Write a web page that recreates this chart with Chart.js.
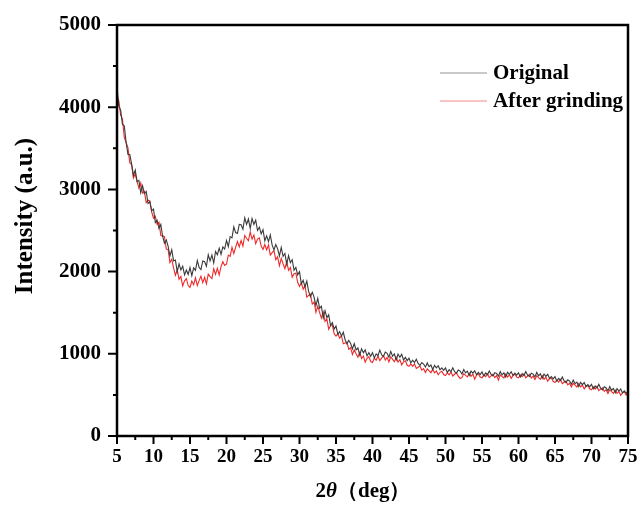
<!DOCTYPE html>
<html>
<head>
<meta charset="utf-8">
<script src="https://cdn.jsdelivr.net/npm/chart.js@4.4.1/dist/chart.umd.min.js"></script>
<style>
  html, body { margin: 0; padding: 0; background: #fff; }
  #wrap { width: 643px; height: 515px; }
</style>
</head>
<body>
<div id="wrap"><canvas id="xrd"></canvas></div>
<script>
// scan starts at 5 deg, one reading every 0.25 deg up to 75 deg
const angleStart = 5;
const angleStep = 0.25;

const xTicks = [5, 10, 15, 20, 25, 30, 35, 40, 45, 50, 55, 60, 65, 70, 75];
const yTicks = [0, 1000, 2000, 3000, 4000, 5000];

const seriesNames = ["Original", "After grinding"];

// intensities (Original), noisy as in the scan
const original = [
  4240,4010,3965,3790,3775,3570,3425,3425,3310,3170,3235,3095,3110,2960,3045,2950,2975,2830,2850,2740,
  2760,2595,2625,2525,2575,2430,2345,2385,2310,2190,2265,2130,2140,2000,2095,2020,2065,1960,2020,1965,
  2050,1950,2045,2015,2135,2050,2025,2130,2120,2065,2205,2130,2200,2105,2245,2205,2285,2210,2300,2275,
  2380,2305,2425,2410,2545,2475,2465,2575,2570,2515,2655,2575,2640,2525,2645,2575,2625,2500,2540,2460,
  2510,2375,2435,2365,2445,2325,2265,2330,2280,2190,2295,2185,2220,2090,2195,2110,2145,2015,2050,1960,
  2000,1850,1895,1815,1885,1760,1695,1750,1690,1585,1675,1555,1580,1435,1525,1440,1475,1345,1380,1300,
  1338,1236,1270,1214,1262,1171,1122,1164,1127,1058,1125,1048,1071,984,1061,1013,1048,974,1014,971,
  1014,948,999,977,1045,988,967,1021,1006,959,1029,970,998,927,997,959,993,925,957,917,
  948,890,922,894,934,883,860,894,875,838,889,844,864,809,860,830,855,805,829,799,
  828,773,807,784,829,783,765,804,790,755,809,767,789,736,790,764,793,746,774,747,
  780,729,767,745,792,748,731,771,760,728,783,743,768,718,775,750,781,736,766,741,
  770,719,758,736,784,740,724,764,753,719,774,732,756,702,754,725,750,700,724,694,
  723,668,702,676,719,671,649,684,668,631,681,636,656,601,653,624,650,601,626,598,
  628,574,609,584,629,582,562,599,585,549,601,557,579,525,577,547,573,524,549,520,
  540
];

// intensities (After grinding)
const afterGrinding = [
  4130,4080,3905,3855,3630,3570,3505,3325,3300,3140,3190,3095,3015,3080,2955,2975,2840,2870,2860,2725,
  2650,2675,2575,2600,2440,2435,2425,2275,2270,2110,2150,2045,1955,2020,1905,1940,1825,1887,1915,1830,
  1808,1885,1840,1925,1830,1890,1945,1865,1930,1850,1970,1940,1915,2035,1965,2040,1960,2060,2120,2075,
  2090,2200,2185,2295,2220,2295,2365,2300,2380,2310,2440,2405,2375,2482,2395,2445,2340,2395,2410,2310,
  2270,2330,2265,2325,2200,2230,2255,2145,2180,2070,2160,2095,2035,2120,2015,2050,1930,1975,1980,1870,
  1820,1865,1785,1830,1690,1710,1725,1605,1630,1505,1580,1505,1435,1510,1395,1425,1300,1345,1350,1245,
  1215,1246,1190,1220,1122,1132,1138,1056,1074,991,1048,1002,959,1017,943,974,898,945,965,906,
  895,946,921,974,916,948,978,924,957,901,964,932,903,958,900,929,864,902,915,860,
  847,876,848,877,822,837,850,802,819,773,818,793,770,812,769,792,745,775,788,747,
  735,769,745,779,730,751,770,728,700,710,759,738,719,765,726,752,690,741,756,718,
  708,744,722,757,710,732,752,710,735,680,744,724,707,754,717,744,702,736,753,716,
  707,743,721,756,708,730,749,706,729,686,734,711,690,733,691,714,667,696,707,665,
  651,683,657,688,636,654,669,623,643,597,642,618,596,639,597,620,573,603,615,575,
  563,596,571,603,552,571,587,542,563,518,564,540,518,561,519,542,495,525,538,498,
  515
];

const seriesColors = ["#3a3a3a", "#ee2a2a"];
const serif = "'Times New Roman', 'Liberation Serif', serif";

function toPoints(values) {
  return values.map((v, i) => ({ x: angleStart + i * angleStep, y: v }));
}

// frame, tick marks, legend and axis titles
const decor = {
  id: 'decor',
  afterDraw(chart) {
    const ctx = chart.ctx;
    const a = chart.chartArea;
    const xs = chart.scales.x, ys = chart.scales.y;
    ctx.save();
    ctx.strokeStyle = '#000';
    ctx.lineWidth = 2.5;
    ctx.strokeRect(a.left, a.top, a.right - a.left, a.bottom - a.top);

    ctx.lineWidth = 2;
    ctx.beginPath();
    for (let v = 5; v <= 75; v += 2.5) {
      const px = xs.getPixelForValue(v);
      const len = (v % 5 === 0) ? 8 : 4;
      ctx.moveTo(px, a.bottom);
      ctx.lineTo(px, a.bottom + len);
    }
    for (let v = 0; v <= 5000; v += 500) {
      const py = ys.getPixelForValue(v);
      const len = (v % 1000 === 0) ? 9 : 4;
      ctx.moveTo(a.left, py);
      ctx.lineTo(a.left - len, py);
    }
    ctx.stroke();

    // legend
    const legY = [73, 101];
    chart.data.datasets.forEach((ds, i) => {
      ctx.globalAlpha = 0.55;
      ctx.strokeStyle = ds.borderColor;
      ctx.lineWidth = 1.2;
      ctx.beginPath();
      ctx.moveTo(440, legY[i]);
      ctx.lineTo(487, legY[i]);
      ctx.stroke();
      ctx.globalAlpha = 1;
      ctx.fillStyle = '#000';
      ctx.font = 'bold 21px ' + serif;
      ctx.textBaseline = 'middle';
      ctx.textAlign = 'left';
      ctx.fillText(ds.label, 493, legY[i] + 1);
    });

    // x title: 2θ（deg）
    ctx.textBaseline = 'alphabetic';
    const ty = 497;
    const parts = [
      { t: '2', f: 'bold 21px ' + serif },
      { t: 'θ', f: 'italic bold 21px ' + serif },
      { t: '（deg）', f: 'bold 21px ' + serif }
    ];
    let total = 0;
    parts.forEach(p => { ctx.font = p.f; p.w = ctx.measureText(p.t).width; total += p.w; });
    let tx = 355 - total / 2 + 8;
    parts.forEach(p => { ctx.font = p.f; ctx.fillText(p.t, tx, ty); tx += p.w; });

    // y title
    ctx.translate(26, 216);
    ctx.rotate(-Math.PI / 2);
    ctx.font = 'bold 25px ' + serif;
    ctx.textAlign = 'center';
    ctx.textBaseline = 'middle';
    ctx.fillText('Intensity (a.u.)', 0, 0);
    ctx.restore();
  }
};

new Chart(document.getElementById('xrd'), {
  type: 'line',
  data: {
    datasets: [
      {
        label: seriesNames[0],
        data: toPoints(original),
        borderColor: seriesColors[0],
        borderWidth: 1.1,
        pointRadius: 0,
        tension: 0
      },
      {
        label: seriesNames[1],
        data: toPoints(afterGrinding),
        borderColor: seriesColors[1],
        borderWidth: 1.1,
        pointRadius: 0,
        tension: 0
      }
    ]
  },
  options: {
    responsive: true,
    maintainAspectRatio: false,
    animation: false,
    layout: { padding: { top: 25, right: 15, left: 0, bottom: 0 } },
    plugins: {
      legend: { display: false },
      tooltip: { enabled: false }
    },
    scales: {
      x: {
        type: 'linear',
        min: 5,
        max: 75,
        afterFit(s) { s.height = 79; s.paddingLeft = 0; s.paddingRight = 0; },
        afterBuildTicks(s) { s.ticks = xTicks.map(v => ({ value: v })); },
        grid: { display: false, drawTicks: false },
        border: { display: false },
        ticks: {
          padding: 10,
          maxRotation: 0,
          autoSkip: false,
          color: '#000',
          font: { family: serif, size: 19, weight: 'bold' },
          callback: v => String(v)
        }
      },
      y: {
        min: 0,
        max: 5000,
        afterFit(s) { s.width = 117; s.paddingTop = 0; s.paddingBottom = 0; },
        afterBuildTicks(s) { s.ticks = yTicks.map(v => ({ value: v })); },
        grid: { display: false, drawTicks: false },
        border: { display: false },
        ticks: {
          padding: 16,
          color: '#000',
          font: { family: serif, size: 21, weight: 'bold' },
          callback: v => String(v)
        }
      }
    }
  },
  plugins: [decor]
});
</script>
</body>
</html>
